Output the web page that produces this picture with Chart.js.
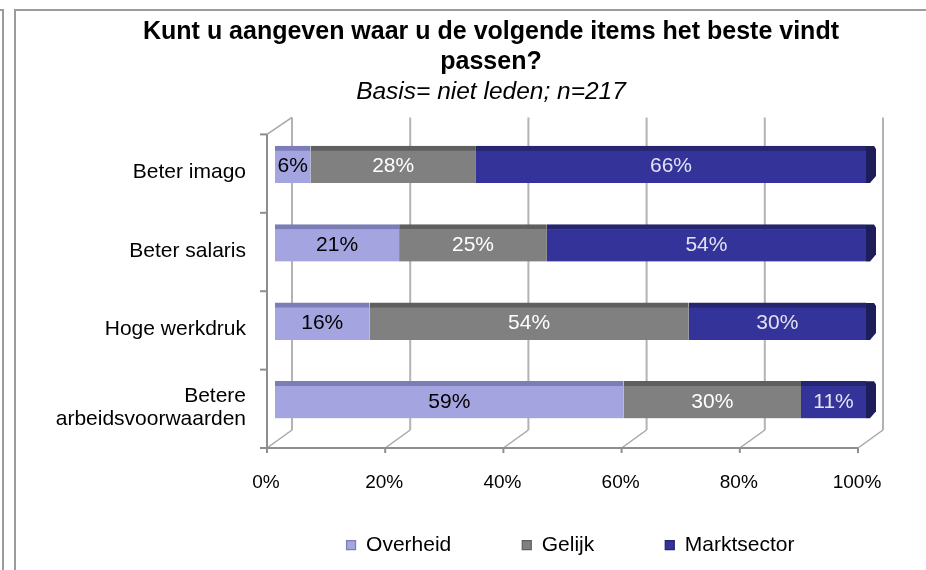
<!DOCTYPE html>
<html>
<head>
<meta charset="utf-8">
<script src="https://cdn.jsdelivr.net/npm/chart.js@4/dist/chart.umd.min.js"></script>
<style>
html,body{margin:0;padding:0;background:#ffffff;}
#wrap{width:926px;height:570px;position:relative;}
</style>
</head>
<body>
<div id="wrap"><canvas id="c" width="926" height="570"></canvas></div>
<script>
// ---- data ----
const categories = [['Beter imago'], ['Beter salaris'], ['Hoge werkdruk'], ['Betere', 'arbeidsvoorwaarden']];
const seriesNames = ['Overheid', 'Gelijk', 'Marktsector'];
const overheid = [6, 21, 16, 59];
const gelijk = [28, 25, 54, 30];
const marktsector = [66, 54, 30, 11];
const xTickValues = [0, 20, 40, 60, 80, 100];
const titleLines = ['Kunt u aangeven waar u de volgende items het beste vindt', 'passen?'];
const subtitleText = 'Basis= niet leden; n=217';

// ---- styles ----
const FONT = "'Liberation Sans', Arial, sans-serif";
const fillColors = ['#a4a4e0', '#808080', '#333399'];
const topColors = ['#7c7cb6', '#5f5f5f', '#252570'];
const labelColors = ['#000000', '#ffffff', '#e2e2f2'];
const capColor = '#1d1d5a';
const fmtPct = v => v + '%';

const frame3d = {
  id: 'frame3d',
  beforeDraw(chart) {
    const ctx = chart.ctx;
    ctx.save();
    ctx.strokeStyle = '#9c9c9c';
    ctx.lineWidth = 2;
    ctx.beginPath();
    ctx.moveTo(0, 10); ctx.lineTo(3, 10); ctx.lineTo(3, chart.height);
    ctx.moveTo(15, chart.height); ctx.lineTo(15, 10); ctx.lineTo(chart.width, 10);
    ctx.stroke();
    ctx.restore();
  },
  beforeDatasetsDraw(chart) {
    const {ctx, chartArea: ca, scales} = chart;
    const xs = scales.x, ys = scales.y;
    const back = v => xs.getPixelForValue(v) + 17;
    const front = v => xs.getPixelForValue(v) - 8;
    const bTop = ca.top - 8, bBot = ca.bottom - 9, fTop = ca.top + 9, fBot = ca.bottom + 9;
    const line = (x1, y1, x2, y2) => { ctx.beginPath(); ctx.moveTo(x1, y1); ctx.lineTo(x2, y2); ctx.stroke(); };
    ctx.save();
    ctx.lineWidth = 2; ctx.strokeStyle = '#b3b3b3';
    xTickValues.forEach(v => line(back(v), bTop, back(v), bBot));
    ctx.lineWidth = 1.5; ctx.strokeStyle = '#a6a6a6';
    xTickValues.forEach(v => line(back(v), bBot, front(v), fBot));
    line(front(0), fTop, back(0), bTop);
    ctx.strokeStyle = '#8e8e8e'; ctx.lineWidth = 2;
    line(front(0), fTop, front(0), fBot);
    line(front(0), fBot, front(100), fBot);
    xTickValues.forEach(v => line(front(v), fBot, front(v), fBot + 5));
    for (let i = 0; i <= categories.length; i++) {
      const yy = ys.getPixelForValue(i - 0.5) + 9;
      line(front(0) - 7, yy, front(0), yy);
    }
    // x tick labels, placed by the x scale
    ctx.fillStyle = '#000000';
    ctx.font = '19px ' + FONT;
    ctx.textAlign = 'center';
    ctx.textBaseline = 'middle';
    xs.ticks.forEach(t => ctx.fillText(fmtPct(t.value), xs.getPixelForValue(t.value) - 9, ca.bottom + 44));
    ctx.restore();
  },
  afterDatasetsDraw(chart) {
    const ctx = chart.ctx;
    ctx.save();
    const last = chart.data.datasets.length - 1;
    const lastMeta = chart.getDatasetMeta(last);
    lastMeta.data.forEach(el => {
      const p = el.getProps(['x', 'y', 'height'], true);
      const r = p.x, t = p.y - p.height / 2, b = p.y + p.height / 2;
      ctx.fillStyle = capColor;
      ctx.beginPath();
      ctx.moveTo(r, t); ctx.lineTo(r + 8, t); ctx.lineTo(r + 10, t + 3);
      ctx.lineTo(r + 10, b - 7); ctx.lineTo(r + 4, b); ctx.lineTo(r, b);
      ctx.closePath(); ctx.fill();
    });
    ctx.font = '21px ' + FONT;
    ctx.textAlign = 'center';
    ctx.textBaseline = 'middle';
    chart.data.datasets.forEach((ds, di) => {
      const meta = chart.getDatasetMeta(di);
      meta.data.forEach((el, i) => {
        const p = el.getProps(['x', 'y', 'base'], true);
        ctx.fillStyle = labelColors[di];
        ctx.fillText(fmtPct(ds.data[i]), (p.x + p.base) / 2, p.y + 2);
      });
    });
    ctx.restore();
  }
};

const seriesData = [overheid, gelijk, marktsector];
const datasets = seriesNames.map((name, i) => ({
  label: name,
  data: seriesData[i],
  backgroundColor: fillColors[i],
  borderColor: topColors[i],
  borderWidth: {top: 5, right: 0, bottom: 0, left: 0},
  borderSkipped: false,
  barThickness: 37
}));

new Chart(document.getElementById('c'), {
  type: 'bar',
  data: {labels: categories, datasets},
  plugins: [frame3d],
  options: {
    responsive: false,
    animation: false,
    devicePixelRatio: 1,
    indexAxis: 'y',
    layout: {padding: {left: 56, right: 0, top: 0, bottom: 4.5}},
    scales: {
      x: {
        stacked: true, min: 0, max: 100,
        grid: {display: false, drawTicks: false},
        border: {display: false},
        afterBuildTicks: s => { s.ticks = xTickValues.map(v => ({value: v})); },
        afterFit: s => { s.height = 24.5; },
        ticks: {display: false, callback: fmtPct}
      },
      y: {
        stacked: true,
        grid: {display: false, drawTicks: false},
        border: {display: false},
        afterFit: s => { s.width = 219; },
        ticks: {
          color: '#000000',
          font: {family: FONT, size: 21, lineHeight: 1.1},
          padding: 29,
          labelOffset: 8
        }
      },
      yRight: {
        type: 'linear',
        position: 'right',
        axis: 'y',
        grid: {display: false, drawTicks: false},
        border: {display: false},
        ticks: {display: false},
        afterFit: s => { s.width = 60; }
      }
    },
    plugins: {
      title: {
        display: true,
        text: titleLines,
        color: '#000000',
        font: {family: FONT, size: 25, weight: 'bold', lineHeight: 1.2},
        padding: {top: 17, bottom: 0}
      },
      subtitle: {
        display: true,
        text: subtitleText,
        color: '#000000',
        font: {family: FONT, size: 24.5, style: 'italic', lineHeight: 1.2},
        padding: {top: 0, bottom: 19}
      },
      legend: {
        display: true,
        position: 'bottom',
        fullSize: false,
        labels: {
          color: '#000000',
          font: {family: FONT, size: 21},
          boxWidth: 9,
          boxHeight: 9,
          padding: 71
        }
      },
      tooltip: {enabled: false}
    }
  }
});
</script>
</body>
</html>
